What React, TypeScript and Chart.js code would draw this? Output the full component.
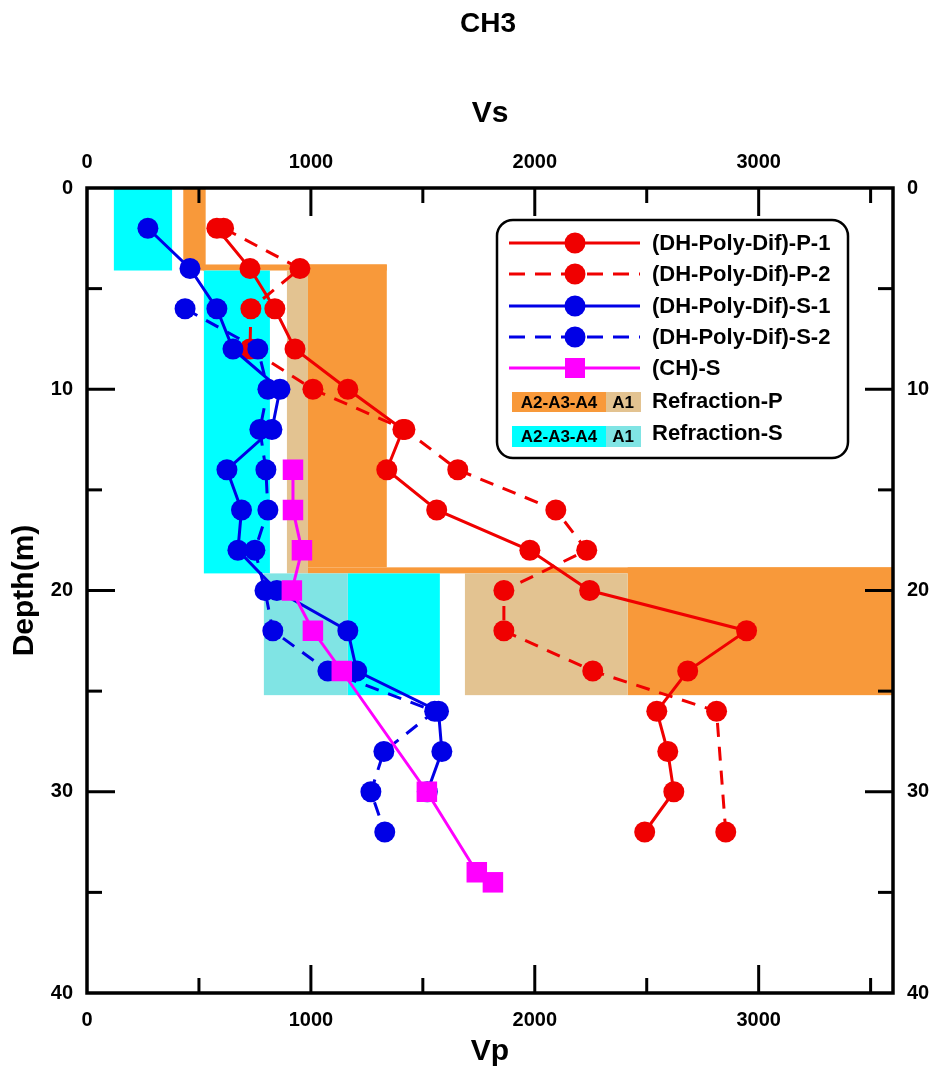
import React, { useEffect, useRef } from 'react';
import { Chart, registerables } from 'chart.js';
Chart.register(...registerables);

const FONT = '"Liberation Sans", Arial, Helvetica, sans-serif';

// ---- Series data (velocity m/s vs depth m) ----
const depthP1 = [2, 4, 6, 8, 10, 12, 14, 16, 18, 20, 22, 24, 26, 28, 30, 32];
const vpP1 = [580, 728, 839, 929, 1165, 1411, 1339, 1562, 1978, 2245, 2946, 2683, 2545, 2594, 2621, 2491];

const depthP2 = [2, 4, 6, 8, 10, 12, 14, 16, 18, 20, 22, 24, 26, 32];
const vpP2 = [610, 951, 732, 728, 1009, 1420, 1656, 2094, 2232, 1862, 1862, 2259, 2812, 2853];

const depthS1 = [2, 4, 6, 8, 10, 12, 14, 16, 18, 20, 22, 24, 26, 28, 30];
const vsS1 = [272, 460, 580, 652, 862, 826, 625, 690, 674, 848, 1165, 1205, 1570, 1585, 1520];

const depthS2 = [6, 8, 10, 12, 14, 16, 18, 20, 22, 24, 26, 28, 30, 32];
const vsS2 = [438, 763, 808, 772, 799, 808, 750, 795, 830, 1076, 1553, 1326, 1268, 1330];

const depthCH = [14, 16, 18, 20, 22, 24, 30, 34, 34.5];
const vsCH = [920, 920, 960, 915, 1009, 1138, 1518, 1741, 1813];

// ---- Refraction bands: [velocity from, velocity to, depth from, depth to] ----
const refrP_A234 = [
  [430, 530, 0, 4.1],
  [518, 1339, 3.8, 4.1],
  [987, 1339, 3.8, 18.85],
  [987, 3600, 18.85, 19.15],
  [2415, 3600, 18.85, 25.2],
];
const refrP_A1 = [
  [893, 987, 4.1, 19.15],
  [1688, 2415, 19.15, 25.2],
];
const refrS_A234 = [
  [120, 380, 0, 4.1],
  [522, 817, 4.1, 19.15],
  [1165, 1576, 19.15, 25.2],
];
const refrS_A1 = [
  [790, 1165, 19.15, 25.2],
];

// ---- Axis ticks ----
const xTickLabels = [0, 1000, 2000, 3000];
const yTickLabels = [0, 10, 20, 30, 40];
const xMajorTicks = [1000, 2000, 3000];
const xMinorTicks = [500, 1500, 2500, 3500];
const yMajorTicks = [10, 20, 30];
const yMinorTicks = [5, 15, 25, 35];

const seriesLabels = [
  '(DH-Poly-Dif)-P-1',
  '(DH-Poly-Dif)-P-2',
  '(DH-Poly-Dif)-S-1',
  '(DH-Poly-Dif)-S-2',
  '(CH)-S',
];
const bandLabels = ['Refraction-P', 'Refraction-S'];
const swatchLabels = ['A2-A3-A4', 'A1'];

const RED = '#f00000';
const BLUE = '#0000e6';
const MAGENTA = '#ff00ff';
const ORANGE = '#f8993a';
const TAN = '#e3c391';
const CYAN = '#00ffff';
const LCYAN = '#80e4e4';
const DASH = [14, 10];

const pts = (xs: number[], ys: number[]) => xs.map((v, i) => ({ x: v, y: ys[i] }));

const bandsPlugin = {
  id: 'refractionBands',
  beforeDatasetsDraw(chart: any) {
    const { ctx, chartArea: a, scales } = chart;
    const x = scales.x, y = scales.y;
    ctx.save();
    ctx.beginPath();
    ctx.rect(a.left, a.top, a.right - a.left, a.bottom - a.top);
    ctx.clip();
    const fillAll = (list: number[][], color: string) => {
      ctx.fillStyle = color;
      for (const [v0, v1, d0, d1] of list) {
        const x0 = x.getPixelForValue(v0), x1 = x.getPixelForValue(v1);
        const y0 = y.getPixelForValue(d0), y1 = y.getPixelForValue(d1);
        ctx.fillRect(Math.min(x0, x1), Math.min(y0, y1), Math.abs(x1 - x0), Math.abs(y1 - y0));
      }
    };
    fillAll(refrP_A234, ORANGE);
    fillAll(refrP_A1, TAN);
    fillAll(refrS_A234, CYAN);
    fillAll(refrS_A1, LCYAN);
    ctx.restore();
  },
};

const framePlugin = {
  id: 'frameTicks',
  afterDatasetsDraw(chart: any) {
    const { ctx, chartArea: a, scales } = chart;
    const x = scales.x, y = scales.y;
    ctx.save();
    ctx.strokeStyle = '#000';
    ctx.lineWidth = 3;
    ctx.lineCap = 'butt';
    const seg = (x0: number, y0: number, x1: number, y1: number) => {
      ctx.beginPath();
      ctx.moveTo(x0, y0);
      ctx.lineTo(x1, y1);
      ctx.stroke();
    };
    const major = 28, minor = 15;
    for (const v of xMajorTicks) {
      const p = x.getPixelForValue(v);
      seg(p, a.bottom, p, a.bottom - major);
      seg(p, a.top, p, a.top + major);
    }
    for (const v of xMinorTicks) {
      const p = x.getPixelForValue(v);
      seg(p, a.bottom, p, a.bottom - minor);
      seg(p, a.top, p, a.top + minor);
    }
    for (const v of yMajorTicks) {
      const p = y.getPixelForValue(v);
      seg(a.left, p, a.left + major, p);
      seg(a.right, p, a.right - major, p);
    }
    for (const v of yMinorTicks) {
      const p = y.getPixelForValue(v);
      seg(a.left, p, a.left + minor, p);
      seg(a.right, p, a.right - minor, p);
    }
    ctx.lineWidth = 3.5;
    ctx.strokeRect(a.left, a.top, a.right - a.left, a.bottom - a.top);
    ctx.restore();
  },
};

const legendPlugin = {
  id: 'customLegend',
  afterDraw(chart: any) {
    const { ctx } = chart;
    ctx.save();
    // title
    ctx.fillStyle = '#000';
    ctx.font = `bold 28px ${FONT}`;
    ctx.textAlign = 'center';
    ctx.textBaseline = 'middle';
    ctx.fillText('CH3', 488, 24);

    // legend box
    const bx = 497, by = 220, bw = 351, bh = 238, r = 16;
    ctx.beginPath();
    ctx.moveTo(bx + r, by);
    ctx.arcTo(bx + bw, by, bx + bw, by + bh, r);
    ctx.arcTo(bx + bw, by + bh, bx, by + bh, r);
    ctx.arcTo(bx, by + bh, bx, by, r);
    ctx.arcTo(bx, by, bx + bw, by, r);
    ctx.closePath();
    ctx.fillStyle = '#fff';
    ctx.fill();
    ctx.lineWidth = 2.5;
    ctx.strokeStyle = '#000';
    ctx.stroke();

    const rows = [243, 274, 306, 337, 368];
    const colors = [RED, RED, BLUE, BLUE, MAGENTA];
    const dashed = [false, true, false, true, false];
    const lx0 = 509, lx1 = 640, mx = 575, tx = 652;
    rows.forEach((ry, i) => {
      ctx.strokeStyle = colors[i];
      ctx.lineWidth = 3;
      ctx.setLineDash(dashed[i] ? [16, 10] : []);
      ctx.beginPath();
      ctx.moveTo(lx0, ry);
      ctx.lineTo(lx1, ry);
      ctx.stroke();
      ctx.setLineDash([]);
      ctx.fillStyle = colors[i];
      if (i === 4) {
        ctx.fillRect(mx - 10, ry - 10, 20, 20);
      } else {
        ctx.beginPath();
        ctx.arc(mx, ry, 10.5, 0, Math.PI * 2);
        ctx.fill();
      }
      ctx.fillStyle = '#000';
      ctx.font = `bold 22px ${FONT}`;
      ctx.textAlign = 'left';
      ctx.textBaseline = 'middle';
      ctx.fillText(seriesLabels[i], tx, ry + 1);
    });

    const bandRows = [
      { y: 392, h: 20, c1: ORANGE, c2: TAN, ty: 402 },
      { y: 426, h: 21, c1: CYAN, c2: LCYAN, ty: 434 },
    ];
    bandRows.forEach((b, i) => {
      ctx.fillStyle = b.c1;
      ctx.fillRect(512, b.y, 94, b.h);
      ctx.fillStyle = b.c2;
      ctx.fillRect(606, b.y, 35, b.h);
      ctx.fillStyle = '#000';
      ctx.font = `bold 17px ${FONT}`;
      ctx.textAlign = 'center';
      ctx.textBaseline = 'middle';
      ctx.fillText(swatchLabels[0], 559, b.y + b.h / 2 + 1);
      ctx.fillText(swatchLabels[1], 623, b.y + b.h / 2 + 1);
      ctx.font = `bold 22px ${FONT}`;
      ctx.textAlign = 'left';
      ctx.fillText(bandLabels[i], tx, b.ty);
    });
    ctx.restore();
  },
};

const tickFont = { family: FONT, size: 20, weight: 'bold' as const };
const titleFont = { family: FONT, size: 30, weight: 'bold' as const };

const setTicks = (vals: number[]) => (s: any) => {
  s.ticks = vals.map((v) => ({ value: v }));
};

export default function App() {
  const ref = useRef<HTMLCanvasElement | null>(null);

  useEffect(() => {
    if (!ref.current) return;
    const lineDs = (label: string, data: any[], color: string, dash: number[], order: number, style: string, radius: number) => ({
      label,
      data,
      borderColor: color,
      backgroundColor: color,
      pointBackgroundColor: color,
      pointBorderColor: color,
      borderWidth: 3,
      borderDash: dash,
      pointRadius: radius,
      pointHoverRadius: radius,
      pointBorderWidth: 0,
      pointStyle: style,
      showLine: true,
      fill: false,
      tension: 0,
      order,
    });

    const xAxis = (position: string, padding: number, title: any, size: number) => ({
      type: 'linear',
      position,
      min: 0,
      max: 3600,
      grid: { display: false, drawTicks: false },
      border: { display: false },
      afterBuildTicks: setTicks(xTickLabels),
      ticks: {
        autoSkip: false,
        maxRotation: 0,
        minRotation: 0,
        padding,
        color: '#000',
        font: tickFont,
        callback: (v: any) => String(v),
      },
      title,
      afterFit: (s: any) => { s.height = size; },
    });

    const yAxis = (position: string, title: any, size: number) => ({
      type: 'linear',
      position,
      reverse: true,
      min: 0,
      max: 40,
      grid: { display: false, drawTicks: false },
      border: { display: false },
      afterBuildTicks: setTicks(yTickLabels),
      ticks: { autoSkip: false, padding: 14, color: '#000', font: tickFont, callback: (v: any) => String(v) },
      title,
      afterFit: (s: any) => { s.width = size; },
    });

    const chart = new Chart(ref.current, {
      type: 'scatter',
      data: {
        datasets: [
          lineDs(seriesLabels[0], pts(vpP1, depthP1), RED, [], 4, 'circle', 10.5),
          lineDs(seriesLabels[1], pts(vpP2, depthP2), RED, DASH, 3, 'circle', 10.5),
          lineDs(seriesLabels[2], pts(vsS1, depthS1), BLUE, [], 2, 'circle', 10.5),
          lineDs(seriesLabels[3], pts(vsS2, depthS2), BLUE, DASH, 1, 'circle', 10.5),
          lineDs(seriesLabels[4], pts(vsCH, depthCH), MAGENTA, [], 0, 'rect', 14.5),
        ],
      },
      options: {
        responsive: false,
        animation: false,
        devicePixelRatio: 1,
        layout: { padding: 0 },
        plugins: {
          legend: { display: false },
          tooltip: { enabled: false },
          title: { display: false },
        },
        scales: {
          x: xAxis('bottom', 15,
            { display: true, text: 'Vp', color: '#000', font: titleFont, padding: { top: 0, bottom: 6 } }, 83),
          x2: xAxis('top', 14,
            { display: true, text: 'Vs', color: '#000', font: titleFont, padding: { top: 96, bottom: 0 } }, 188),
          y: yAxis('left',
            { display: true, text: 'Depth(m)', color: '#000', font: titleFont, padding: { top: 7, bottom: 0 } }, 87),
          y2: yAxis('right', { display: false }, 52),
        },
      } as any,
      plugins: [bandsPlugin, framePlugin, legendPlugin],
    });
    return () => chart.destroy();
  }, []);

  return (
    <div style={{ position: 'absolute', left: 0, top: 0, width: 945, height: 1076, background: '#fff' }}>
      <canvas ref={ref} width={945} height={1076} style={{ display: 'block' }} />
    </div>
  );
}
